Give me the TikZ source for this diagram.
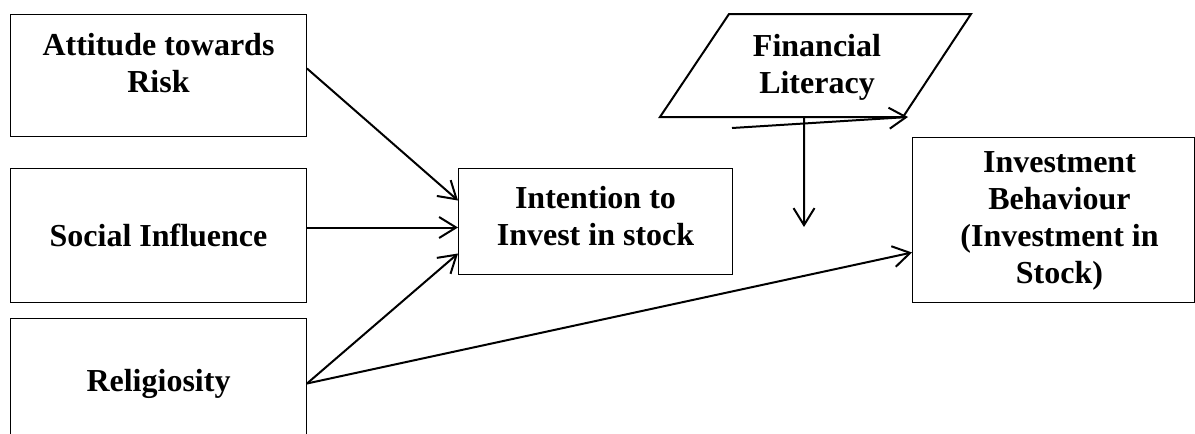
\documentclass[tikz,border=0pt]{standalone}
\usepackage{fontspec}
\setmainfont{Liberation Serif}
\usetikzlibrary{arrows.meta,calc}
\tikzset{
  box/.style={draw,line width=1pt,inner sep=0pt,anchor=north west,minimum width=#1},
  box/.default=296pt,
  txt/.style={font=\bfseries\fontsize{32}{37}\selectfont,align=center,inner sep=0pt},
  arr/.style={-{Straight Barb[length=17pt,width=21pt]},line width=2pt},
}
\begin{document}
\begin{tikzpicture}[x=1pt,y=-1pt]
  \clip (0,0) rectangle (1195,434);
  % predictors
  \node[box,minimum height=122pt] (att) at (10,14) {};
  \node[box,minimum height=134pt] (soc) at (10,168) {};
  \node[box,minimum height=130pt] (rel) at (10,318) {};
  \node[txt] (attT) at ($(att.center)+(0,-12)$) {Attitude towards\\Risk};
  \node[txt] (socT) at (soc.center) {Social Influence};
  \node[txt] (relT) at (rel.center) {Religiosity};
  % intention and behaviour
  \node[box=274pt,minimum height=106pt] (inten) at (458,168) {};
  \node[box=282pt,minimum height=165pt] (beh) at (912,137) {};
  \node[txt] (intenT) at ($(inten.center)+(0,-5)$) {Intention to\\Invest in stock};
  \node[txt] (behT) at ($(beh.center)+(6,1)$) {Investment\\Behaviour\\(Investment in\\Stock)};
  % moderator
  \coordinate (f1) at (660,117); \coordinate (f2) at (903,117);
  \coordinate (f3) at (971,14); \coordinate (f4) at (729,14);
  \draw[line width=2pt] (f1) -- (f2) -- (f3) -- (f4) -- cycle;
  \node[txt] (finT) at (817,67) {Financial\\Literacy};
  \coordinate (m1) at (732,128); \coordinate (m2) at (908,117);
  \coordinate (v1) at ($(f1)!0.593!(f2)$); \coordinate (v2) at (804,227);
  % paths
  \draw[arr] ($(att.east)+(0,-7)$) -- ($(inten.west)+(0,-21)$);
  \draw[arr] ($(soc.east)+(0,-8)$) -- ($(inten.west)+(0,6)$);
  \draw[arr] (rel.east) -- ($(inten.west)+(0,32)$);
  \draw[arr] (rel.east) -- ($(beh.west)+(0,32.5)$);
  \draw[arr] (m1) -- (m2);
  \draw[arr] (v1) -- (v2);
\end{tikzpicture}
\end{document}
